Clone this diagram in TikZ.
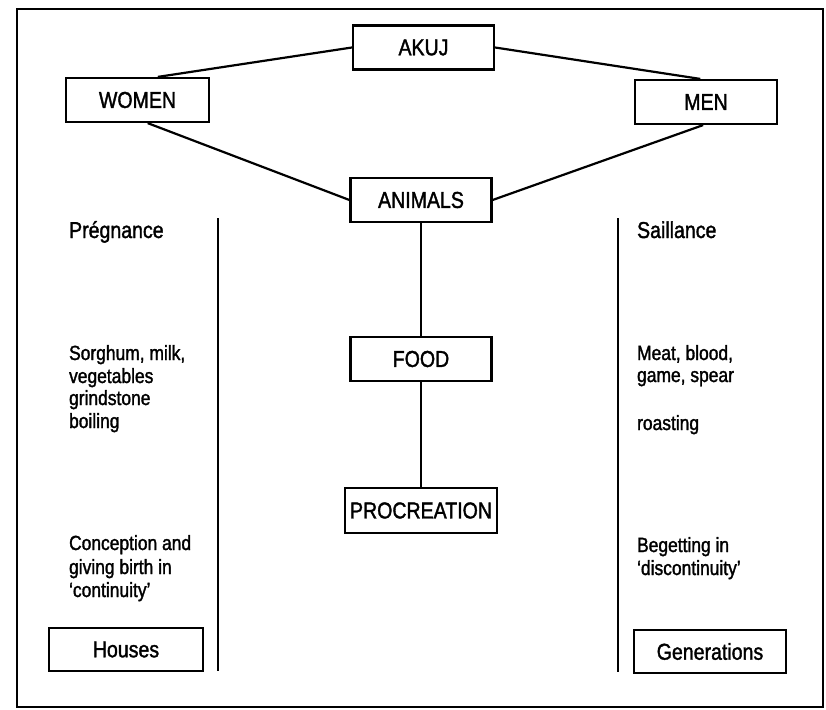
\documentclass[tikz,border=0pt]{standalone}
\usepackage{fontspec}
\setmainfont{Liberation Sans}[FakeStretch=0.85,UprightFeatures={FakeBold=1.5}]
\usetikzlibrary{calc}
\begin{document}
\begin{tikzpicture}[x=1pt,y=-1pt,line width=2.2pt,
  box/.style={draw,line width=2.2pt,minimum width=141pt,minimum height=44pt,inner sep=0pt,font=\fontsize{23}{26}\selectfont},
  head/.style={anchor=base west,inner sep=0pt,font=\fontsize{23}{26}\selectfont},
  body/.style={anchor=base west,inner sep=0pt,font=\fontsize{20.5}{23}\selectfont},
  conn/.style={line width=2.2pt}]
\useasboundingbox (0,0) rectangle (826,709);
\draw[line width=2.2pt] (17,9) rectangle (823,707);
% boxes
\node[box] (akuj) at (423.5,47.5) {AKUJ};
\node[box,minimum width=143pt] (women) at (137.5,100) {WOMEN};
\node[box,minimum width=142pt] (men) at (706,102) {MEN};
\node[box] (animals) at (421,200) {ANIMALS};
\node[box] (food) at (421,359) {FOOD};
\node[box,minimum width=152pt,minimum height=45pt] (proc) at (421,510.5) {PROCREATION};
\node[box,minimum width=154pt,minimum height=43pt] (houses) at (126,649.5) {Houses};
\node[box,minimum width=152pt,minimum height=43pt] (gens) at (710,651.5) {Generations};
% connectors
\draw[conn] (akuj.west) -- ($(women.north west)!0.64!(women.north east)$);
\draw[conn] (akuj.east) -- ($(men.north west)!0.46!(men.north east)$);
\draw[conn] ($(women.south west)!0.57!(women.south east)$) -- (animals.west);
\draw[conn] ($(men.south west)!0.48!(men.south east)$) -- (animals.east);
\draw[conn] (animals.south) -- (food.north);
\draw[conn] (food.south) -- (proc.north);
% dividers
\coordinate (lt) at (218,218);
\coordinate (lb) at (218,671);
\coordinate (rt) at (618,218);
\coordinate (rb) at (618,672);
\draw[conn] (lt) -- (lb);
\draw[conn] (rt) -- (rb);
% left texts
\node[head] (preg) at (68,238) {Prégnance};
\node[body] (l1) at (68,360) {Sorghum, milk,};
\node[body] (l2) at (68,383) {vegetables};
\node[body] (l3) at (68,405) {grindstone};
\node[body] (l4) at (68,428) {boiling};
\node[body] (l5) at (68,550) {Conception and};
\node[body] (l6) at (68,574) {giving birth in};
\node[body] (l7) at (68,597) {‘continuity’};
% right texts
\node[head] (sail) at (636,238) {Saillance};
\node[body] (r1) at (636,360) {Meat, blood,};
\node[body] (r2) at (636,382) {game, spear};
\node[body] (r3) at (636,430) {roasting};
\node[body] (r4) at (636,552) {Begetting in};
\node[body] (r5) at (636,575) {‘discontinuity’};
\end{tikzpicture}
\end{document}
